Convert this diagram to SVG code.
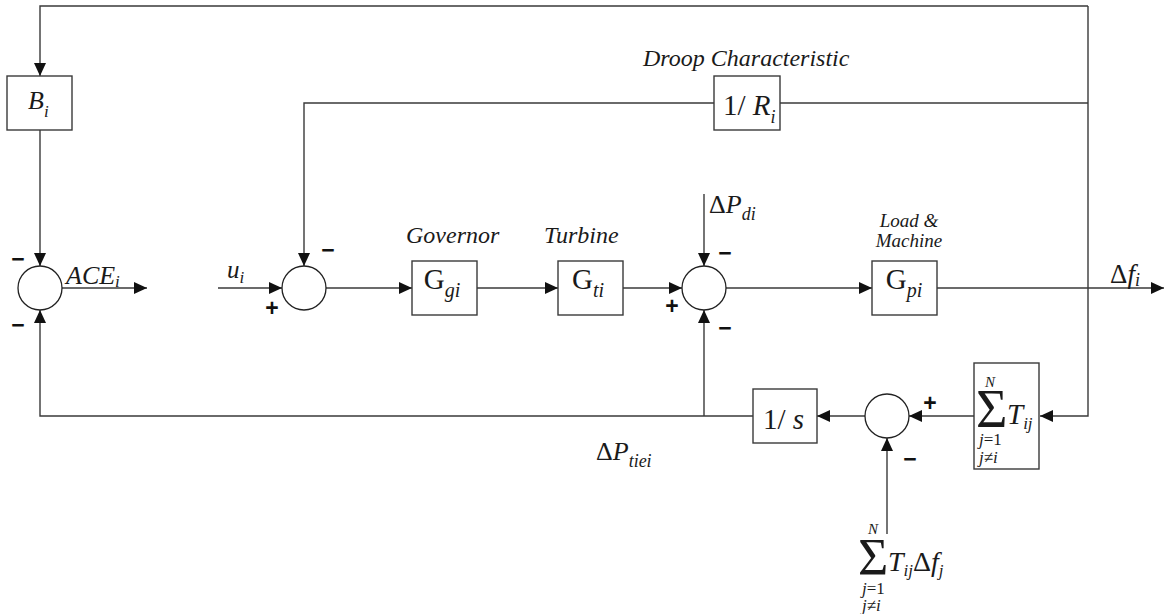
<svg xmlns="http://www.w3.org/2000/svg" width="1164" height="614" viewBox="0 0 1164 614">
<style>
.ln{fill:none;stroke:#3a3a3a;stroke-width:1.4}
.bx{fill:#fff;stroke:#3a3a3a;stroke-width:1.4}
.sj{fill:#fff;stroke:#222;stroke-width:1.3}
.t{font-family:"Liberation Serif","Times New Roman",serif;fill:#1a1a1a}
.it{font-style:italic}
.up{font-style:normal}
.lbl{font-family:"Liberation Serif","Times New Roman",serif;font-style:italic;fill:#1a1a1a}
.sg{font-family:"Liberation Sans",Arial,sans-serif;font-weight:bold;font-size:23px;fill:#111;text-anchor:middle}
</style>
<defs>
<marker id="ah" markerUnits="userSpaceOnUse" markerWidth="14" markerHeight="12" refX="13" refY="6" orient="auto">
<path d="M0,0 L13,6 L0,12 z" fill="#111"/>
</marker>
</defs>
<g id="connectors">
<path class="ln" d="M1088,6 V416 H1040" marker-end="url(#ah)"/>
<path class="ln" d="M1088,6 H40 V76" marker-end="url(#ah)"/>
<path class="ln" d="M1088,103 H780"/>
<path class="ln" d="M714,103 H304 V266" marker-end="url(#ah)"/>
<path class="ln" d="M40,130 V266" marker-end="url(#ah)"/>
<path class="ln" d="M62,288 H147" marker-end="url(#ah)"/>
<path class="ln" d="M218,288 H282" marker-end="url(#ah)"/>
<path class="ln" d="M326,288 H412" marker-end="url(#ah)"/>
<path class="ln" d="M477,288 H558" marker-end="url(#ah)"/>
<path class="ln" d="M623,288 H682" marker-end="url(#ah)"/>
<path class="ln" d="M704,194 V266" marker-end="url(#ah)"/>
<path class="ln" d="M726,288 H872" marker-end="url(#ah)"/>
<path class="ln" d="M937,288 H1164" marker-end="url(#ah)"/>
<path class="ln" d="M974,416 H909" marker-end="url(#ah)"/>
<path class="ln" d="M865,416 H817" marker-end="url(#ah)"/>
<path class="ln" d="M753,416 H40 V310" marker-end="url(#ah)"/>
<path class="ln" d="M704,416 V310" marker-end="url(#ah)"/>
<path class="ln" d="M887,534 V438" marker-end="url(#ah)"/>
</g>
<g id="Bi">
<rect class="bx" x="7" y="76" width="65" height="54"/>
<text class="t it" x="28" y="109" font-size="26">B<tspan font-size="17" dy="8">i</tspan></text>
</g>
<g id="sumACE">
<circle class="sj" cx="40" cy="288" r="22"/>
<text class="sg" x="18" y="267">−</text>
<text class="sg" x="18" y="333">−</text>
<text class="t it" x="66" y="284" font-size="26">ACE<tspan font-size="17" dy="3">i</tspan></text>
</g>
<g id="input">
<text class="t it" x="227" y="278" font-size="25">u<tspan font-size="17" dy="5">i</tspan></text>
</g>
<g id="sum2">
<circle class="sj" cx="304" cy="288" r="22"/>
<text class="sg" x="328" y="258">−</text>
<text class="sg" x="272" y="316">+</text>
</g>
<g id="governor">
<text class="lbl" x="406" y="243" font-size="24">Governor</text>
<rect class="bx" x="412" y="261" width="65" height="54"/>
<text class="t" x="442" y="289" font-size="29" text-anchor="middle">G<tspan class="it" font-size="20" dy="8">gi</tspan></text>
</g>
<g id="turbine">
<text class="lbl" x="544" y="243" font-size="24">Turbine</text>
<rect class="bx" x="558" y="261" width="65" height="54"/>
<text class="t" x="588" y="289" font-size="29" text-anchor="middle">G<tspan class="it" font-size="20" dy="8">ti</tspan></text>
</g>
<g id="sum3">
<circle class="sj" cx="704" cy="288" r="22"/>
<text class="sg" x="725" y="261">−</text>
<text class="sg" x="672" y="314">+</text>
<text class="sg" x="725" y="336">−</text>
<text class="t" x="709" y="213" font-size="26">Δ<tspan class="it">P</tspan><tspan class="it" font-size="18" dy="7">di</tspan></text>
</g>
<g id="droop">
<text class="lbl" x="643" y="66" font-size="24">Droop Characteristic</text>
<rect class="bx" x="714" y="76" width="66" height="54"/>
<text class="t" x="723" y="115" font-size="29">1/ <tspan class="it">R</tspan><tspan class="it" font-size="18" dy="8">i</tspan></text>
</g>
<g id="loadMachine">
<text class="lbl" x="909" y="227" font-size="19" text-anchor="middle">Load &amp;</text>
<text class="lbl" x="909" y="247" font-size="19" text-anchor="middle">Machine</text>
<rect class="bx" x="872" y="261" width="65" height="54"/>
<text class="t" x="904" y="289" font-size="29" text-anchor="middle">G<tspan class="it" font-size="20" dy="8">pi</tspan></text>
</g>
<g id="output">
<text class="t" x="1110" y="283" font-size="27">Δ<tspan class="it">f</tspan><tspan class="it" font-size="18" dy="3">i</tspan></text>
</g>
<g id="integrator">
<rect class="bx" x="753" y="389" width="64" height="54"/>
<text class="t" x="763" y="429" font-size="29">1/ <tspan class="it">s</tspan></text>
<text class="t" x="596" y="460" font-size="26">Δ<tspan class="it">P</tspan><tspan class="it" font-size="18" dy="7">tiei</tspan></text>
</g>
<g id="sum4">
<circle class="sj" cx="887" cy="416" r="22"/>
<text class="sg" x="930" y="411">+</text>
<text class="sg" x="910" y="467">−</text>
</g>
<g id="sumTij">
<rect class="bx" x="974" y="363" width="65" height="106"/>
<text class="t"><tspan class="it" x="985" y="387" font-size="15">N</tspan><tspan x="976" y="427" font-size="54">Σ</tspan><tspan class="it" x="1007" y="424" font-size="29">T</tspan><tspan class="it" font-size="17" dy="5">ij</tspan><tspan class="it" x="979" y="445" font-size="17">j</tspan><tspan font-size="17">=1</tspan><tspan class="it" x="979" y="463" font-size="17">j</tspan><tspan font-size="17">≠</tspan><tspan class="it" font-size="17">i</tspan></text>
</g>
<g id="sumTijDf">
<text class="t"><tspan class="it" x="868" y="534" font-size="15">N</tspan><tspan x="858" y="575" font-size="52">Σ</tspan><tspan class="it" x="888" y="571" font-size="28">T</tspan><tspan class="it" font-size="17" dy="5">ij</tspan><tspan font-size="28" dy="-5">Δ</tspan><tspan class="it" font-size="28">f</tspan><tspan class="it" font-size="17" dy="5">j</tspan><tspan class="it" x="862" y="594" font-size="17">j</tspan><tspan font-size="17">=1</tspan><tspan class="it" x="862" y="611" font-size="17">j</tspan><tspan font-size="17">≠</tspan><tspan class="it" font-size="17">i</tspan></text>
</g>
</svg>
